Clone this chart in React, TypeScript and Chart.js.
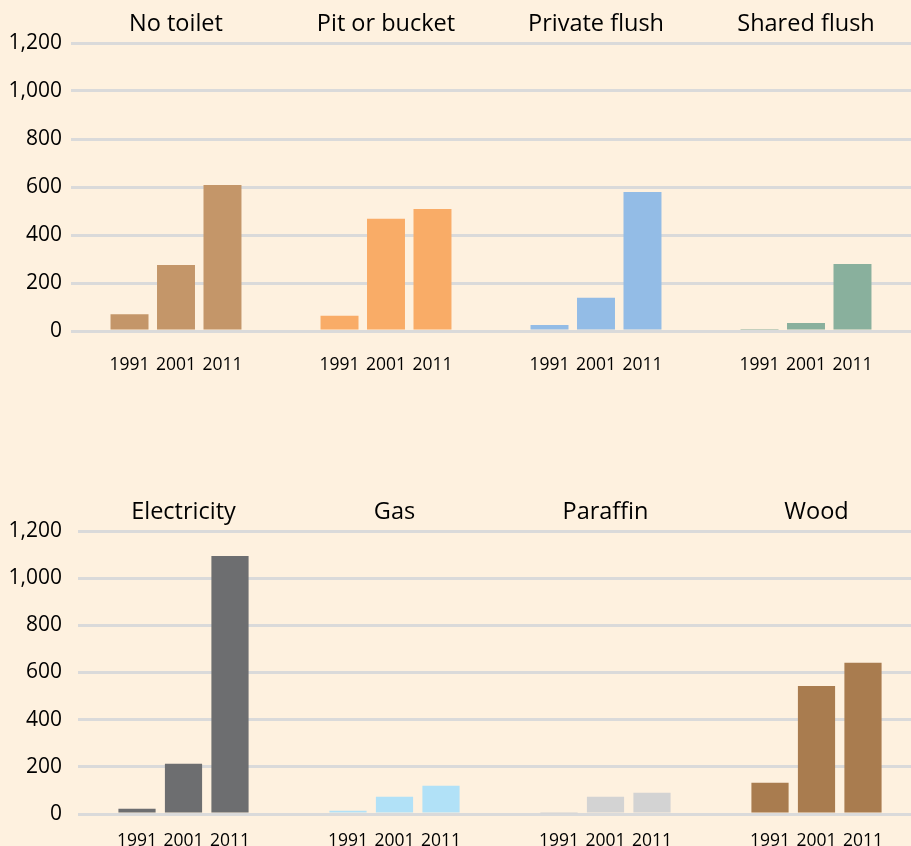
import React, { useEffect, useRef } from 'react';
import { Chart, registerables } from 'chart.js';

Chart.register(...registerables);

const years = ['1991', '2001', '2011'];

const sanitationCategories = ['No toilet', 'Pit or bucket', 'Private flush', 'Shared flush'];
const sanitation1991 = [70, 64, 25, 4];
const sanitation2001 = [275, 468, 139, 33];
const sanitation2011 = [608, 508, 579, 279];
const sanitationColors = ['#c49669', '#f9ac67', '#93bce6', '#89b09d'];

const energyCategories = ['Electricity', 'Gas', 'Paraffin', 'Wood'];
const energy1991 = [22, 14, 2, 133];
const energy2001 = [213, 73, 73, 543];
const energy2011 = [1094, 120, 90, 641];
const energyColors = ['#6d6e70', '#b1e1f7', '#d3d3d3', '#a97c4f'];

const yMin = 0;
const yMax = 1200;
const yStep = 200;

const FONT = "'Open Sans', 'Noto Sans', sans-serif";
const BG = '#fef1df';

const yearLabelPlugin = {
  id: 'yearLabels',
  afterDatasetsDraw(chart: any, _args: any, opts: any) {
    const ctx = chart.ctx;
    const y = chart.scales.y.getPixelForValue(0) + opts.offset;
    ctx.save();
    ctx.font = `${opts.size}px ${FONT}`;
    ctx.fillStyle = '#000';
    ctx.textAlign = 'center';
    ctx.textBaseline = 'middle';
    chart.data.datasets.forEach((ds: any, i: number) => {
      const meta = chart.getDatasetMeta(i);
      meta.data.forEach((el: any) => {
        ctx.fillText(ds.label, el.x, y);
      });
    });
    ctx.restore();
  },
};

type PanelProps = {
  categories: string[];
  series: number[][];
  colors: string[];
  width: number;
  height: number;
  top: number;
  areaTop: number;
  areaBottom: number;
  areaLeft: number;
  tickPad: number;
  yearOffset: number;
  catPct: number;
  barPct: number;
};

function Panel(p: PanelProps) {
  const ref = useRef<HTMLCanvasElement>(null);
  useEffect(() => {
    if (!ref.current) return;
    const chart = new Chart(ref.current, {
      type: 'bar',
      data: {
        labels: p.categories,
        datasets: p.series.map((vals, i) => ({
          label: years[i],
          data: vals,
          backgroundColor: p.colors,
          borderWidth: 0,
          categoryPercentage: p.catPct,
          barPercentage: p.barPct,
        })),
      },
      options: {
        responsive: false,
        animation: false,
        devicePixelRatio: 1,
        layout: { padding: { top: 0, left: 0, right: 0, bottom: p.height - p.areaBottom } },
        plugins: {
          legend: { display: false },
          tooltip: { enabled: false },
          yearLabels: { offset: p.yearOffset, size: 17.5 },
        } as any,
        scales: {
          x: {
            position: 'top',
            grid: { display: false },
            border: { display: false },
            ticks: {
              color: '#000',
              font: { family: FONT, size: 23.5 },
              padding: -3,
              maxRotation: 0,
              autoSkip: false,
            },
            afterFit: (scale: any) => {
              scale.height = p.areaTop;
            },
          },
          y: {
            min: yMin,
            max: yMax,
            grid: { color: '#dadada', lineWidth: 3, drawTicks: false },
            border: { display: false },
            ticks: {
              stepSize: yStep,
              color: '#000',
              font: { family: FONT, size: 21 },
              padding: p.tickPad,
            },
            afterFit: (scale: any) => {
              scale.width = p.areaLeft;
            },
          },
        },
      },
      plugins: [yearLabelPlugin],
    });
    return () => chart.destroy();
  }, []);
  return (
    <canvas
      ref={ref}
      width={p.width}
      height={p.height}
      style={{ position: 'absolute', left: 0, top: p.top, width: p.width, height: p.height }}
    />
  );
}

export default function App() {
  return (
    <div
      style={{
        position: 'fixed',
        left: 0,
        top: 0,
        width: 911,
        height: 846,
        overflow: 'hidden',
        background: BG,
      }}
    >
      <Panel
        categories={sanitationCategories}
        series={[sanitation1991, sanitation2001, sanitation2011]}
        colors={sanitationColors}
        width={911}
        height={423}
        top={0}
        areaTop={43}
        areaBottom={331}
        areaLeft={71}
        tickPad={9}
        yearOffset={34}
        catPct={0.664}
        barPct={0.817}
      />
      <Panel
        categories={energyCategories}
        series={[energy1991, energy2001, energy2011]}
        colors={energyColors}
        width={922}
        height={423}
        top={423}
        areaTop={108}
        areaBottom={391}
        areaLeft={78}
        tickPad={16}
        yearOffset={27}
        catPct={0.661}
        barPct={0.8}
      />
    </div>
  );
}
